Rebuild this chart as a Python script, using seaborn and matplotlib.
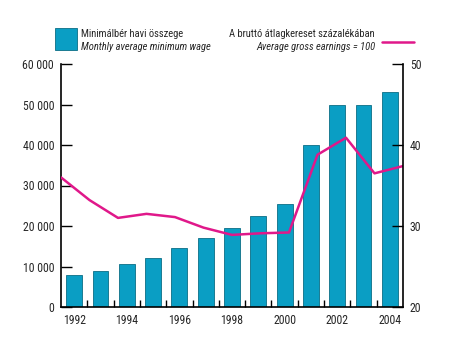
import matplotlib
matplotlib.use("Agg")
import matplotlib.pyplot as plt
import matplotlib.font_manager as fm
from matplotlib.lines import Line2D
from matplotlib.patches import Rectangle
import numpy as np
import pandas as pd
import seaborn as sns

# Data
years = [1992, 1993, 1994, 1995, 1996, 1997, 1998, 1999, 2000, 2001, 2002, 2003, 2004]
min_wage = [8000, 9000, 10500, 12200, 14500, 17000, 19500, 22500, 25500, 40000, 50000, 50000, 53000]
pct_of_avg = [36.0, 33.2, 31.0, 31.5, 31.1, 29.8, 28.9, 29.1, 29.2, 38.8, 40.9, 36.5, 37.4]
left_ticks = [0, 10000, 20000, 30000, 40000, 50000, 60000]
left_labels = ["0", "10 000", "20 000", "30 000", "40 000", "50 000", "60 000"]
right_ticks = [20, 30, 40, 50]
year_labels = ["1992", "1994", "1996", "1998", "2000", "2002", "2004"]

BAR = "#0A9EC4"
BAR_EDGE = "#0B6E86"
LINE = "#E0188A"

sns.set_theme(style="white")
names = {f.name for f in fm.fontManager.ttflist}
fam = [f for f in ["Liberation Sans Narrow", "Roboto Condensed", "Roboto"] if f in names]
plt.rcParams["font.family"] = fam + ["DejaVu Sans"]

fig = plt.figure(figsize=(4.62, 3.44), dpi=100)
ax = fig.add_axes([61 / 462, 37 / 344, 342 / 462, 243 / 344])

df = pd.DataFrame({"year": [str(y) for y in years], "wage": min_wage})
sns.barplot(data=df, x="year", y="wage", ax=ax, color=BAR, width=0.6,
            edgecolor=BAR_EDGE, linewidth=0.6, saturation=1)
ax.set_xlim(-0.5, len(years) - 0.5)
ax.set_ylim(0, 60000)
ax.set_xlabel("")
ax.set_ylabel("")
ax.set_yticks(left_ticks)
ax.set_yticklabels(left_labels)
ax.set_xticks(range(0, len(years), 2))
ax.set_xticklabels(year_labels)
ax.set_xticks(np.arange(0.5, len(years) - 1, 1), minor=True)
ax.tick_params(axis="x", which="major", length=0, pad=5, labelsize=8.5)
ax.tick_params(axis="x", which="minor", direction="in", length=5, width=1, color="black", bottom=True)
ax.tick_params(axis="y", direction="in", length=8, width=1, color="black", left=True, pad=5, labelsize=8.5)
for s in ["top", "right"]:
    ax.spines[s].set_visible(False)
for s in ["left", "bottom"]:
    ax.spines[s].set_color("black")
    ax.spines[s].set_linewidth(1.2)

# Percentage line on its own right-hand scale, spanning the full width
ax2 = fig.add_axes(ax.get_position(), facecolor="none")
ldf = pd.DataFrame({"i": np.arange(len(years)), "pct": pct_of_avg})
sns.lineplot(data=ldf, x="i", y="pct", ax=ax2, color=LINE, linewidth=1.8)
ax2.set_xlim(0, len(years) - 1)
ax2.set_ylim(20, 50)
ax2.set_xticks([])
ax2.set_xlabel("")
ax2.set_ylabel("")
ax2.yaxis.tick_right()
ax2.set_yticks(right_ticks)
ax2.tick_params(axis="y", direction="in", length=8, width=1, color="black", right=True, left=False, pad=5, labelsize=8.5)
for s in ["top", "left", "bottom"]:
    ax2.spines[s].set_visible(False)
ax2.spines["right"].set_color("black")
ax2.spines["right"].set_linewidth(1.2)

# Legend
fig.patches.append(Rectangle((55 / 462, 1 - 50 / 344), 22 / 462, 22 / 344,
                             transform=fig.transFigure, facecolor=BAR,
                             edgecolor=BAR_EDGE, linewidth=0.6))
fs = 7.6
fig.text(81 / 462, 1 - 34 / 344, "Minimálbér havi összege", fontsize=fs, va="center", ha="left")
fig.text(81 / 462, 1 - 47 / 344, "Monthly average minimum wage", fontsize=fs, va="center",
         ha="left", style="italic")
fig.text(375 / 462, 1 - 34 / 344, "A bruttó átlagkereset százalékában", fontsize=fs, va="center", ha="right")
fig.text(375 / 462, 1 - 47 / 344, "Average gross earnings = 100", fontsize=fs, va="center",
         ha="right", style="italic")
fig.lines.append(Line2D([382 / 462, 414 / 462], [1 - 42 / 344, 1 - 42 / 344],
                        transform=fig.transFigure, color=LINE, linewidth=1.8))

fig.savefig("out.png", dpi=100, facecolor="white")
